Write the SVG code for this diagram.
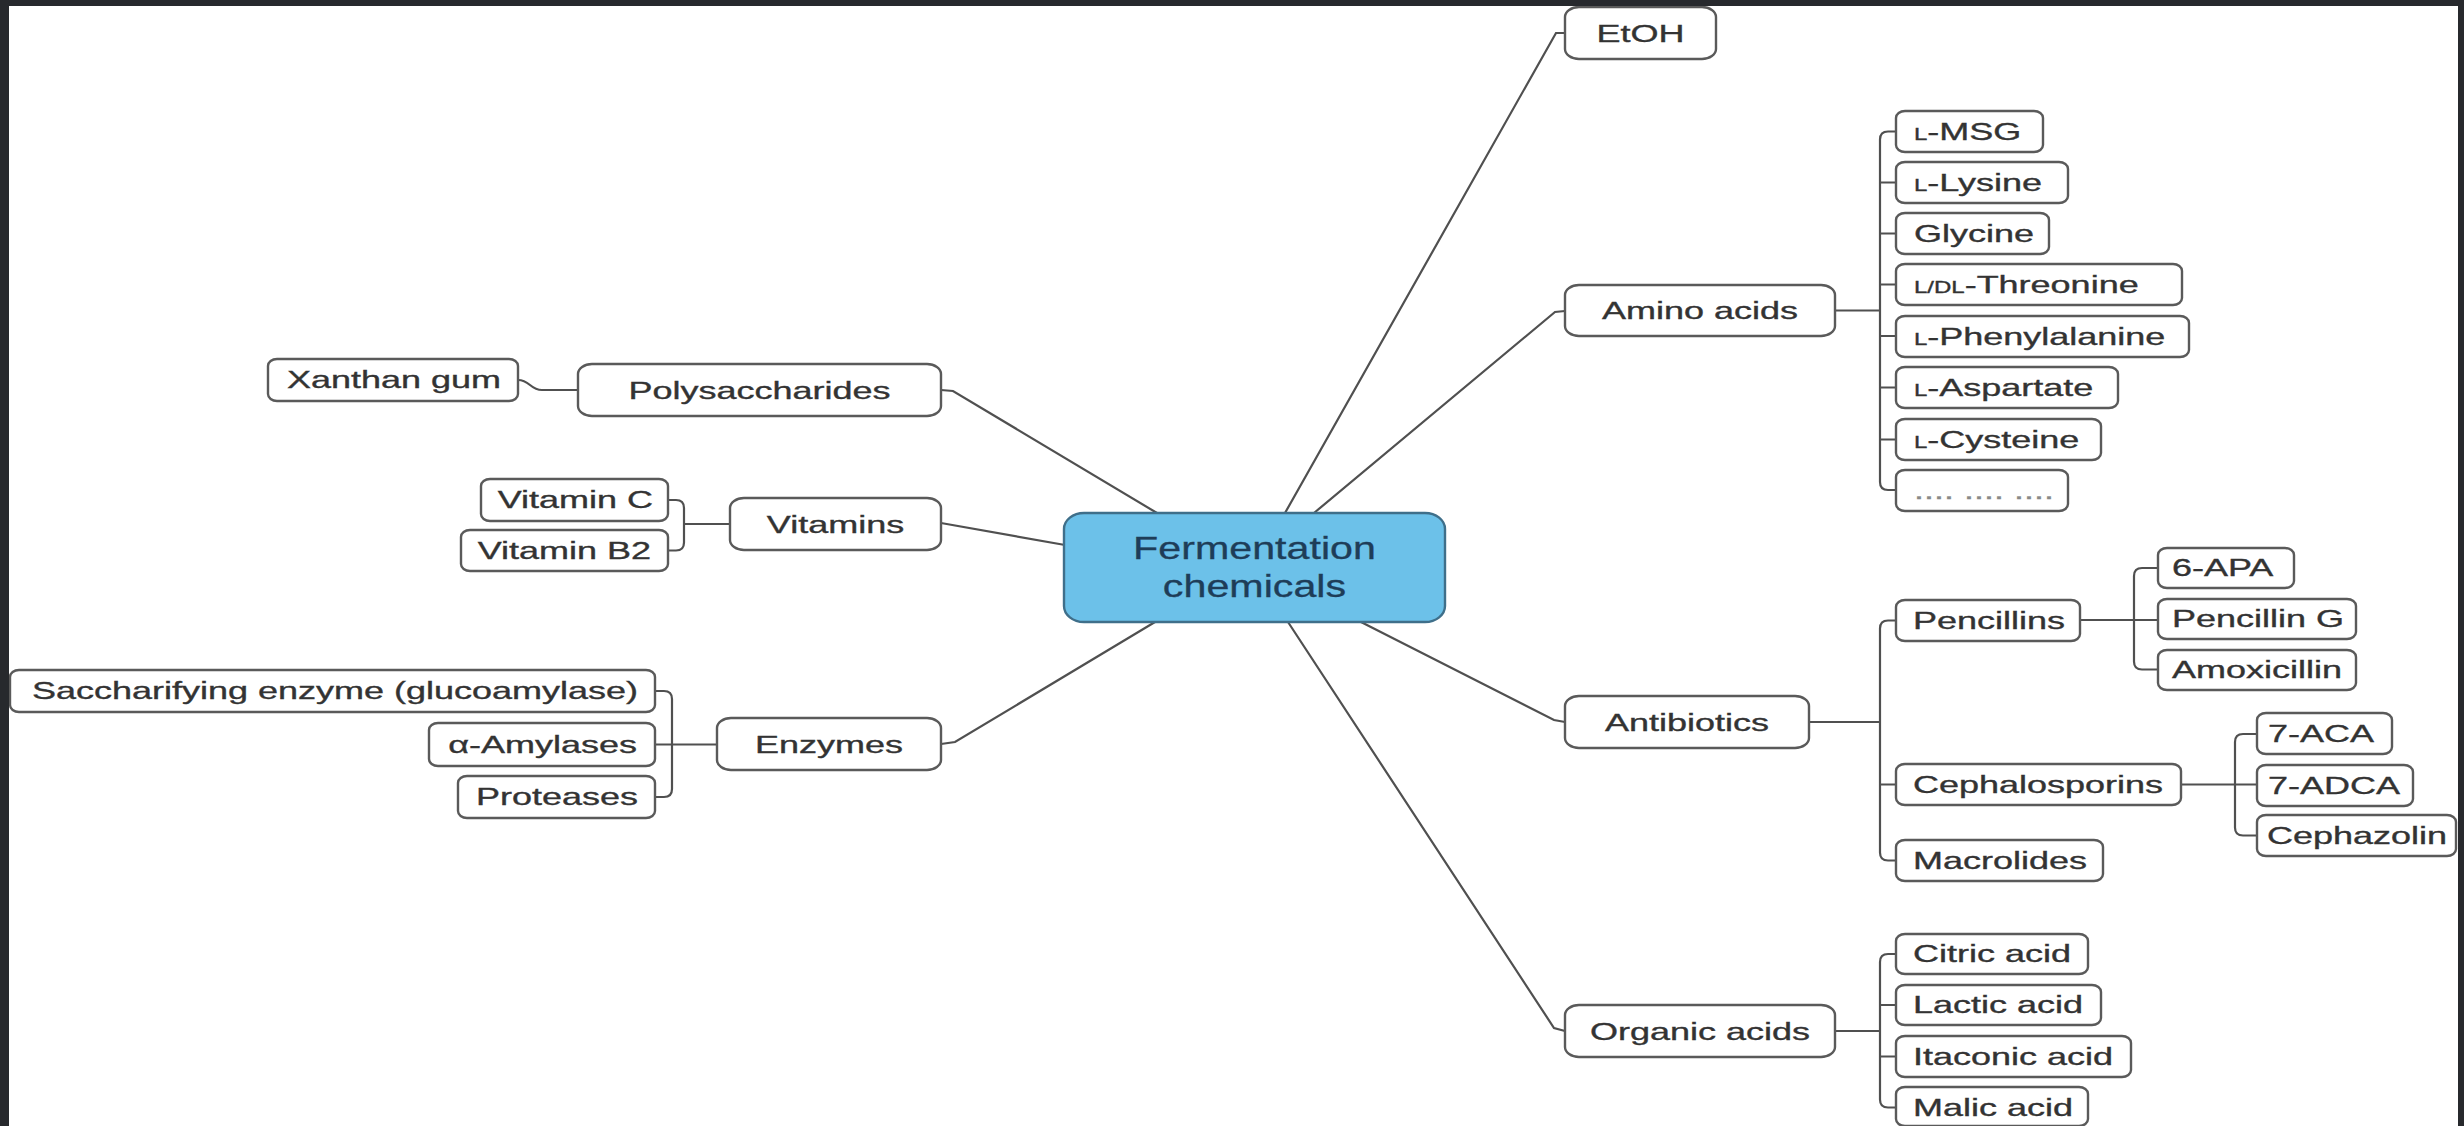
<svg xmlns="http://www.w3.org/2000/svg" width="2464" height="1126" viewBox="0 0 2464 1126">
<style>
.box{fill:#fff;stroke:#5a5a5a;stroke-width:2.4}
.main{fill:#6cc1e9;stroke:#3f6f8a;stroke-width:2.4}
.c{fill:none;stroke:#505050;stroke-width:2.2}
.t{font-family:"Liberation Sans",Arial,Helvetica,sans-serif;font-size:24px;fill:#333;stroke:#333;stroke-width:0.35;transform-box:fill-box;transform:scaleX(1.5)}
.s{text-anchor:start;transform-origin:left center}
.e{text-anchor:end;transform-origin:right center}
.m{text-anchor:middle;transform-origin:center}
.ct{font-family:"Liberation Sans",Arial,Helvetica,sans-serif;font-size:31px;fill:#1e3d58;stroke:#1e3d58;stroke-width:0.3;text-anchor:middle;transform-box:fill-box;transform-origin:center;transform:scaleX(1.33)}
.sc{font-size:16px}
.dots{fill:#888;stroke:#888}
.frame{fill:#27292d}
</style>
<rect x="0" y="0" width="2464" height="1126" fill="#fff"/>
<g id="connectors">
<path class="c" d="M941 390 L953 391 L1157 513"/>
<path class="c" d="M941 523 L1065 545"/>
<path class="c" d="M941 744 L955 742 L1155 622"/>
<path class="c" d="M1285 513 L1556 33 H1565"/>
<path class="c" d="M1314 513 L1555 312 L1565 311"/>
<path class="c" d="M1361 622 L1554 720 L1565 722"/>
<path class="c" d="M1288 622 L1554 1028 L1565 1031"/>
<path class="c" d="M518 380 C530 380 530 390 542 390 H578"/>
<path class="c" d="M668 500 H676 Q684 500 684 508 V542.5 Q684 550.5 676 550.5 H668 M684 524 H730"/>
<path class="c" d="M655 691 H664 Q672 691 672 699 V789 Q672 797 664 797 H655 M655 744.5 H717"/>
<path class="c" d="M1835 310.5 H1880 M1896 131.5 H1888 Q1880 131.5 1880 139.5 V482 Q1880 490 1888 490 H1896 M1880 182.5 H1896 M1880 233.5 H1896 M1880 284.5 H1896 M1880 336 H1896 M1880 387.5 H1896 M1880 439.5 H1896"/>
<path class="c" d="M1809 722 H1880 M1896 620.5 H1888 Q1880 620.5 1880 628.5 V852.5 Q1880 860.5 1888 860.5 H1896 M1880 784.5 H1896"/>
<path class="c" d="M2080 620 H2158 M2158 568 H2142 Q2134 568 2134 576 V661.5 Q2134 669.5 2142 669.5 H2158"/>
<path class="c" d="M2181 784.5 H2257 M2257 734 H2243 Q2235 734 2235 742 V827.5 Q2235 835.5 2243 835.5 H2257"/>
<path class="c" d="M1835 1031 H1880 M1896 954 H1888 Q1880 954 1880 962 V1099.5 Q1880 1107.5 1888 1107.5 H1896 M1880 1005 H1896 M1880 1056.5 H1896"/>
</g>
<g id="central"><rect class="main" x="1064" y="513" width="381" height="109" rx="20" ry="16"/><text class="ct" x="1254.5" y="559">Fermentation</text><text class="ct" x="1254.5" y="597">chemicals</text></g>
<g id="polysaccharides"><rect class="box" x="578" y="364" width="363" height="52" rx="14" ry="10"/><text class="t m" x="759.5" y="399">Polysaccharides</text></g>
<g id="vitamins"><rect class="box" x="730" y="498" width="211" height="52" rx="14" ry="10"/><text class="t m" x="835.5" y="533">Vitamins</text></g>
<g id="enzymes"><rect class="box" x="717" y="718" width="224" height="52" rx="14" ry="10"/><text class="t m" x="829" y="753">Enzymes</text></g>
<g id="etoh"><rect class="box" x="1565" y="7" width="151" height="52" rx="14" ry="10"/><text class="t m" x="1640.5" y="42">EtOH</text></g>
<g id="amino-acids"><rect class="box" x="1565" y="285" width="270" height="51" rx="14" ry="10"/><text class="t m" x="1700" y="319.5">Amino acids</text></g>
<g id="antibiotics"><rect class="box" x="1565" y="696" width="244" height="52" rx="14" ry="10"/><text class="t m" x="1687" y="731">Antibiotics</text></g>
<g id="organic-acids"><rect class="box" x="1565" y="1005" width="270" height="52" rx="14" ry="10"/><text class="t m" x="1700" y="1040">Organic acids</text></g>
<g id="xanthan"><rect class="box" x="268" y="359" width="250" height="42" rx="9" ry="7"/><text class="t e" x="501" y="388.5">Xanthan gum</text></g>
<g id="vitamin-c"><rect class="box" x="481" y="479" width="187" height="42" rx="9" ry="7"/><text class="t e" x="653" y="508.5">Vitamin C</text></g>
<g id="vitamin-b2"><rect class="box" x="461" y="530" width="207" height="41" rx="9" ry="7"/><text class="t e" x="651" y="559">Vitamin B2</text></g>
<g id="saccharifying"><rect class="box" x="10" y="670" width="645" height="42" rx="9" ry="7"/><text class="t e" x="638" y="699.5">Saccharifying enzyme (glucoamylase)</text></g>
<g id="amylases"><rect class="box" x="429" y="723" width="226" height="43" rx="9" ry="7"/><text class="t e" x="637" y="753">α-Amylases</text></g>
<g id="proteases"><rect class="box" x="458" y="776" width="197" height="42" rx="9" ry="7"/><text class="t e" x="638" y="805.5">Proteases</text></g>
<g id="l-msg"><rect class="box" x="1896" y="111" width="147" height="41" rx="9" ry="7"/><text class="t s" x="1914" y="140"><tspan class="sc">L</tspan>-MSG</text></g>
<g id="l-lysine"><rect class="box" x="1896" y="162" width="172" height="41" rx="9" ry="7"/><text class="t s" x="1914" y="191"><tspan class="sc">L</tspan>-Lysine</text></g>
<g id="glycine"><rect class="box" x="1896" y="213" width="153" height="41" rx="9" ry="7"/><text class="t s" x="1914" y="242">Glycine</text></g>
<g id="threonine"><rect class="box" x="1896" y="264" width="286" height="41" rx="9" ry="7"/><text class="t s" x="1914" y="293"><tspan class="sc">L/DL</tspan>-Threonine</text></g>
<g id="phenylalanine"><rect class="box" x="1896" y="316" width="293" height="41" rx="9" ry="7"/><text class="t s" x="1914" y="345"><tspan class="sc">L</tspan>-Phenylalanine</text></g>
<g id="aspartate"><rect class="box" x="1896" y="367" width="222" height="41" rx="9" ry="7"/><text class="t s" x="1914" y="396"><tspan class="sc">L</tspan>-Aspartate</text></g>
<g id="cysteine"><rect class="box" x="1896" y="419" width="205" height="41" rx="9" ry="7"/><text class="t s" x="1914" y="448"><tspan class="sc">L</tspan>-Cysteine</text></g>
<g id="more"><rect class="box" x="1896" y="470" width="172" height="41" rx="9" ry="7"/><text class="t s dots" x="1914" y="499">.... .... ....</text></g>
<g id="pencillins"><rect class="box" x="1896" y="600" width="184" height="41" rx="9" ry="7"/><text class="t s" x="1913" y="629">Pencillins</text></g>
<g id="cephalosporins"><rect class="box" x="1896" y="764" width="285" height="41" rx="9" ry="7"/><text class="t s" x="1913" y="793">Cephalosporins</text></g>
<g id="macrolides"><rect class="box" x="1896" y="840" width="207" height="41" rx="9" ry="7"/><text class="t s" x="1913" y="869">Macrolides</text></g>
<g id="apa"><rect class="box" x="2158" y="548" width="136" height="40" rx="9" ry="7"/><text class="t s" x="2172" y="576.5">6-APA</text></g>
<g id="pencillin-g"><rect class="box" x="2158" y="599" width="198" height="40" rx="9" ry="7"/><text class="t s" x="2172" y="627.5">Pencillin G</text></g>
<g id="amoxicillin"><rect class="box" x="2158" y="650" width="198" height="40" rx="9" ry="7"/><text class="t s" x="2172" y="678.5">Amoxicillin</text></g>
<g id="aca"><rect class="box" x="2257" y="713" width="135" height="41" rx="9" ry="7"/><text class="t s" x="2268" y="742">7-ACA</text></g>
<g id="adca"><rect class="box" x="2257" y="765" width="156" height="41" rx="9" ry="7"/><text class="t s" x="2268" y="794">7-ADCA</text></g>
<g id="cephazolin"><rect class="box" x="2257" y="815" width="199" height="41" rx="9" ry="7"/><text class="t s" x="2267" y="844">Cephazolin</text></g>
<g id="citric"><rect class="box" x="1896" y="934" width="192" height="40" rx="9" ry="7"/><text class="t s" x="1913" y="962">Citric acid</text></g>
<g id="lactic"><rect class="box" x="1896" y="985" width="205" height="40" rx="9" ry="7"/><text class="t s" x="1913" y="1013.5">Lactic acid</text></g>
<g id="itaconic"><rect class="box" x="1896" y="1036" width="235" height="41" rx="9" ry="7"/><text class="t s" x="1913" y="1065">Itaconic acid</text></g>
<g id="malic"><rect class="box" x="1896" y="1087" width="192" height="39" rx="9" ry="7"/><text class="t s" x="1913" y="1116">Malic acid</text></g>
<rect class="frame" x="0" y="0" width="2464" height="6"/>
<rect class="frame" x="0" y="0" width="9" height="1126"/>
<rect class="frame" x="2458" y="0" width="6" height="1126"/>
</svg>
